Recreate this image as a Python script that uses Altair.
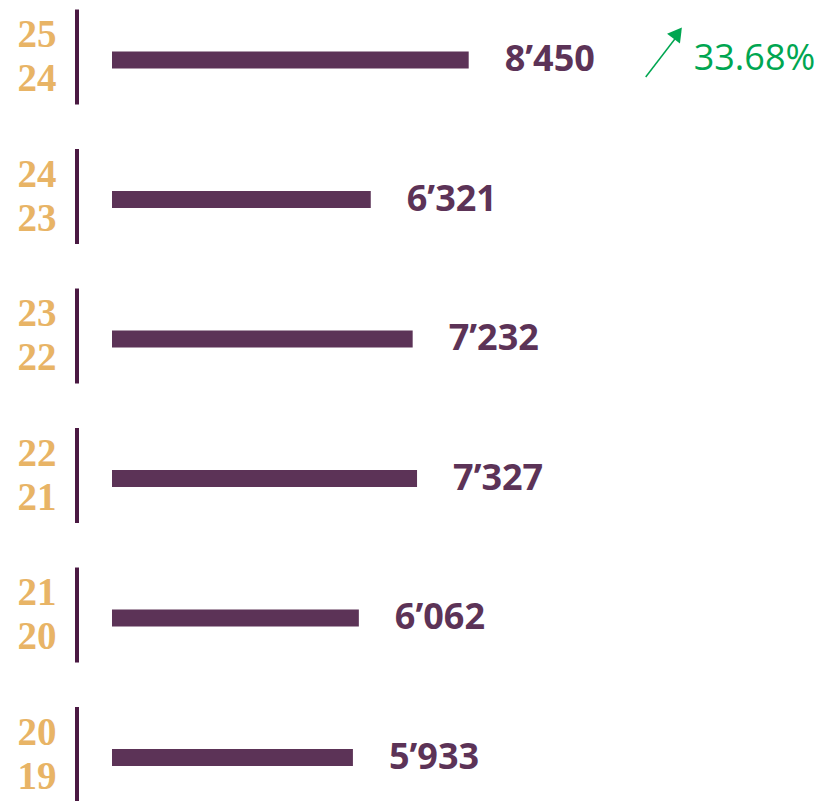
import altair as alt
import pandas as pd

years_top = ["25", "24", "23", "22", "21", "20"]
years_bottom = ["24", "23", "22", "21", "20", "19"]
values = [8450, 6321, 7232, 7327, 6062, 5933]

df = pd.DataFrame({
    "row": list(range(len(values))),
    "value": values,
    "year": [f"{a}\n{b}" for a, b in zip(years_top, years_bottom)],
    "label": [f"{v // 1000}\u2019{v % 1000:03d}" for v in values],
})

pct = (values[0] / values[1] - 1) * 100
top = pd.DataFrame({"row": [0], "value": [values[0]], "pct": [f"{pct:.2f}%"]})

PURPLE = "#5c3357"
DARK = "#4a1942"
GOLD = "#e8b466"
GREEN = "#00a651"

x = alt.X("value:Q", scale=alt.Scale(domain=[0, 10000], range=[72, 532]), axis=None)
y = alt.Y("row:Q", scale=alt.Scale(domain=[-0.3513, 5.2759], reverse=True, nice=False, zero=False), axis=None)

base = alt.Chart(df)

ticks = base.mark_tick(orient="vertical", size=95, thickness=4, color=DARK, opacity=1).encode(
    x=alt.value(69), y=y
)

bars = base.mark_rule(strokeWidth=17, strokeCap="butt", color=PURPLE, yOffset=3).encode(
    x=x, x2=alt.value(104), y=y
)

years = base.mark_text(
    font="Liberation Serif", fontWeight="bold", fontSize=39, color=GOLD,
    lineBreak="\n", lineHeight=44, align="center", baseline="middle", dy=-22
).encode(x=alt.value(29), y=y, text="year:N")

labels = base.mark_text(
    font="Open Sans", fontWeight="bold", fontSize=36, color=PURPLE,
    align="left", baseline="middle", dx=36, dy=3
).encode(x=x, y=y, text="label:N")

tb = alt.Chart(top)
arrow_line = tb.mark_rule(color=GREEN, strokeWidth=1.5, xOffset=177, x2Offset=210,
                          yOffset=20, y2Offset=-23).encode(
    x=x, x2="value:Q", y=y, y2="row:Q"
)
arrow_head = tb.mark_point(shape="triangle-up", filled=True, color=GREEN, opacity=1,
                           size=260, angle=37, xOffset=209, yOffset=-24, strokeWidth=0).encode(x=x, y=y)
pct_text = tb.mark_text(
    font="Open Sans", fontSize=36, color=GREEN, align="left", baseline="middle",
    dx=225, dy=2
).encode(x=x, y=y, text="pct:N")

chart = alt.layer(ticks, bars, years, labels, arrow_line, arrow_head, pct_text).properties(
    width=812, height=785, padding=0
).configure_view(stroke=None)

chart.save("out.html", embed_options={"renderer": "svg", "actions": False})
